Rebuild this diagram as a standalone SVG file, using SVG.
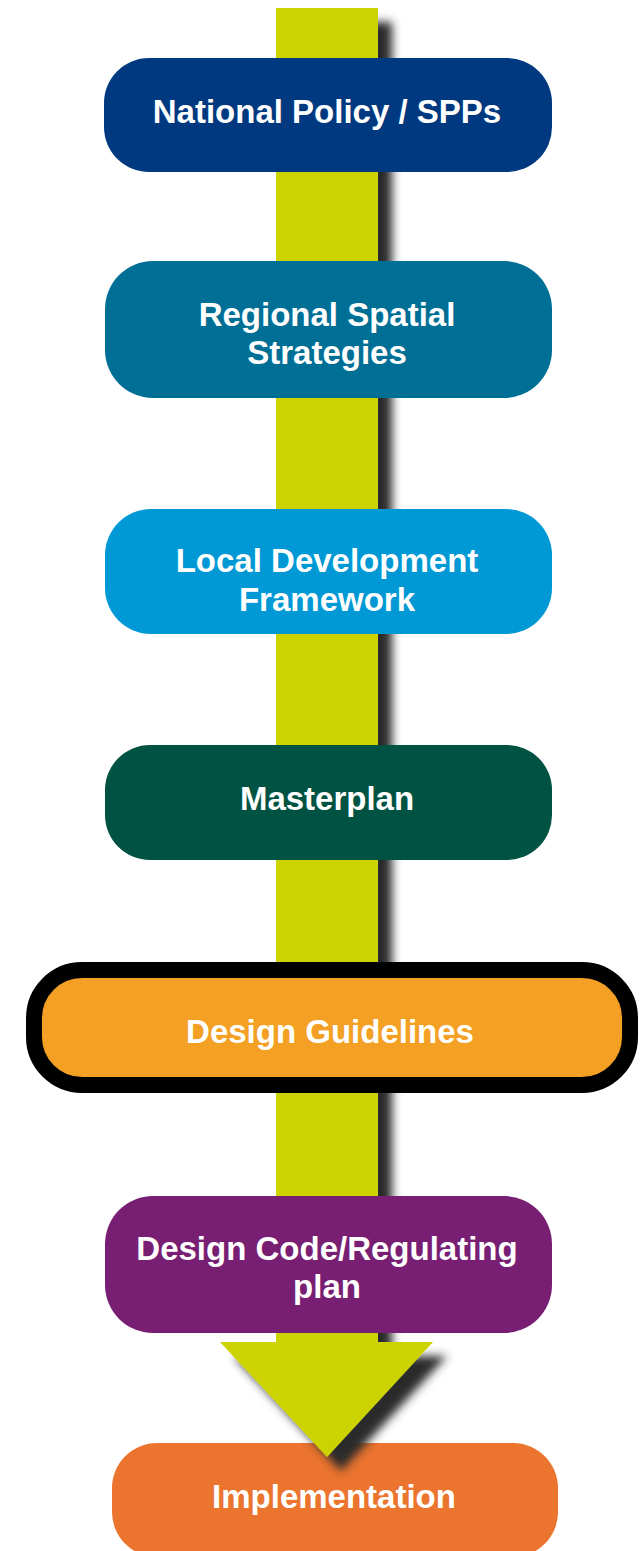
<svg xmlns="http://www.w3.org/2000/svg" width="642" height="1551" viewBox="0 0 642 1551">
  <defs>
    <filter id="shadow" x="-30%" y="-10%" width="160%" height="130%">
      <feGaussianBlur in="SourceAlpha" stdDeviation="5" result="b"/>
      <feOffset in="b" dx="14" dy="14" result="o"/>
      <feFlood flood-color="#2a2a2a" flood-opacity="1"/>
      <feComposite in2="o" operator="in" result="s"/>
      <feMerge>
        <feMergeNode in="s"/>
        <feMergeNode in="SourceGraphic"/>
      </feMerge>
    </filter>
  </defs>
  <style>
    .lbl { font-family: "Liberation Sans", Arial, sans-serif; font-weight: bold; font-size: 33px; fill: #ffffff; text-anchor: middle; }
  </style>
  <rect width="642" height="1551" fill="#ffffff"/>

  <g id="node-implementation">
    <rect x="112" y="1443" width="446" height="114" rx="45" fill="#eb742f"/>
    <text class="lbl" x="334" y="1508">Implementation</text>
  </g>

  <g id="connectors">
    <path d="M276 8 H378 V1342 H433 L327 1457 L220 1342 H276 Z" fill="#ccd300" filter="url(#shadow)"/>
  </g>

  <g id="node-national">
    <rect x="104" y="58" width="448" height="114" rx="45" fill="#00397f"/>
    <text class="lbl" x="327" y="123">National Policy / SPPs</text>
  </g>

  <g id="node-regional">
    <rect x="105" y="261" width="447" height="137" rx="48" fill="#006f96"/>
    <text class="lbl" x="327" y="326">Regional Spatial</text>
    <text class="lbl" x="327" y="364">Strategies</text>
  </g>

  <g id="node-local">
    <rect x="105" y="509" width="447" height="125" rx="46" fill="#0099d5"/>
    <text class="lbl" x="327" y="572">Local Development</text>
    <text class="lbl" x="327" y="611">Framework</text>
  </g>

  <g id="node-masterplan">
    <rect x="105" y="745" width="447" height="115" rx="45" fill="#005243"/>
    <text class="lbl" x="327" y="810">Masterplan</text>
  </g>

  <g id="node-guidelines">
    <rect x="34" y="970" width="596" height="115" rx="48" fill="#f3a024" stroke="#000000" stroke-width="16"/>
    <text class="lbl" x="330" y="1043">Design Guidelines</text>
  </g>

  <g id="node-designcode">
    <rect x="105" y="1196" width="447" height="137" rx="48" fill="#781f74"/>
    <text class="lbl" x="327" y="1260">Design Code/Regulating</text>
    <text class="lbl" x="327" y="1298">plan</text>
  </g>
</svg>
